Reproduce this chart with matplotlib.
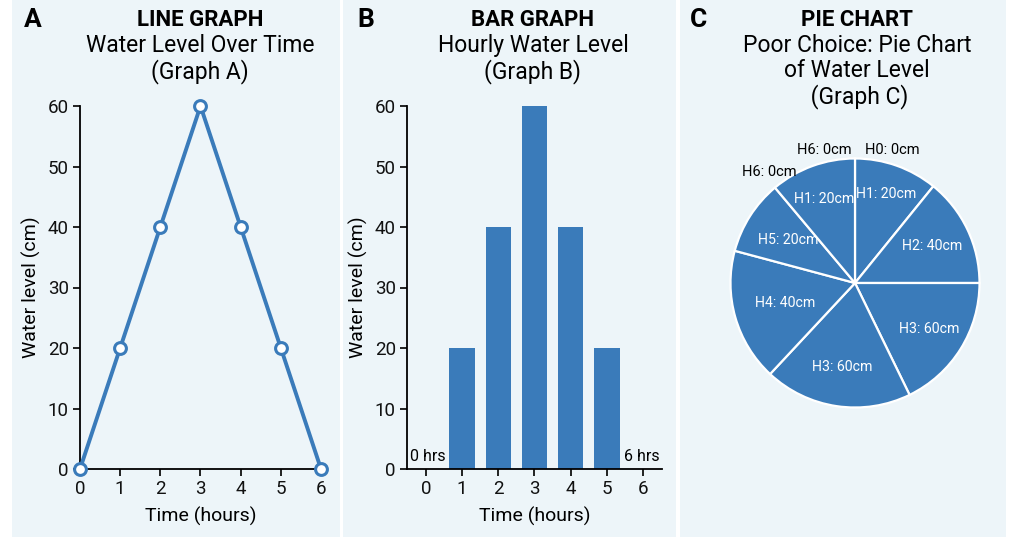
import numpy as np
import matplotlib.pyplot as plt
from matplotlib.patches import Rectangle

plt.rcParams['font.family'] = ['Roboto', 'DejaVu Sans']

# data
hours = [0, 1, 2, 3, 4, 5, 6]
level = [0, 20, 40, 60, 40, 20, 0]
bar_hours = [1, 2, 3, 4, 5]
bar_level = [20, 40, 60, 40, 20]
# pie as drawn (slice sizes in degrees, clockwise from 12 o'clock)
pie_sizes = [39, 51, 64, 69, 62, 35, 40]
pie_labels = ['H1: 20cm', 'H2: 40cm', 'H3: 60cm', 'H3: 60cm',
              'H4: 40cm', 'H5: 20cm', 'H1: 20cm']
outer_labels = ['H0: 0cm', 'H6: 0cm', 'H6: 0cm']

BLUE = '#3a7bba'
PANEL = '#edf5f9'
W, H = 1012, 552

fig = plt.figure(figsize=(W / 100, H / 100), dpi=100)
fig.patch.set_facecolor('white')


def px(x0, y0, x1, y1):
    return [x0 / W, 1 - y1 / H, (x1 - x0) / W, (y1 - y0) / H]


for x0, x1 in [(12, 340), (343, 676), (680, 1006)]:
    fig.patches.append(Rectangle((x0 / W, 1 - 537 / H), (x1 - x0) / W, 537 / H,
                                 transform=fig.transFigure, facecolor=PANEL,
                                 edgecolor='none', zorder=-5))


def fx(x):
    return x / W


def fy(y):
    return 1 - y / H


def style_axes(ax):
    ax.set_facecolor('none')
    ax.spines['top'].set_visible(False)
    ax.spines['right'].set_visible(False)
    ax.spines['left'].set_linewidth(1.3)
    ax.spines['bottom'].set_linewidth(1.3)
    ax.tick_params(labelsize=13.5, length=5, width=1.3, colors='#111111', pad=3)
    ax.set_yticks(range(0, 61, 10))
    ax.set_ylim(0, 60)
    ax.set_xticks(hours)
    ax.set_xlabel('Time (hours)', fontsize=14, labelpad=6)
    ax.set_ylabel('Water level (cm)', fontsize=14, labelpad=5)


# titles
titles = [
    (33, 200, 'A', 'LINE GRAPH', 'Water Level Over Time\n(Graph A)'),
    (366, 533, 'B', 'BAR GRAPH', 'Hourly Water Level\n(Graph B)'),
    (699, 857, 'C', 'PIE CHART', 'Poor Choice: Pie Chart\nof Water Level\n (Graph C)'),
]
for lx, cx, letter, head, sub in titles:
    fig.text(fx(lx), fy(20), letter, fontsize=19, fontweight='bold',
             ha='center', va='center')
    fig.text(fx(cx), fy(20), head, fontsize=16, fontweight='bold',
             ha='center', va='center')
    fig.text(fx(cx), fy(34), sub, fontsize=16.5, ha='center', va='top',
             linespacing=1.1)

# A: line graph
ax1 = fig.add_axes(px(80, 106, 321, 469))
style_axes(ax1)
ax1.set_xlim(0, 6)
ax1.plot(hours, level, color=BLUE, lw=2.8, marker='o', ms=8.5,
         mfc='white', mec=BLUE, mew=2.2, clip_on=False, zorder=3)

# B: bar graph
ax2 = fig.add_axes(px(407, 106, 662, 469))
style_axes(ax2)
ax2.set_xlim(-0.52, 6.52)
ax2.bar(bar_hours, bar_level, width=0.7, color=BLUE)
ax2.text(-0.45, 0.8, '0 hrs', fontsize=11.5, ha='left', va='bottom')
ax2.text(6.45, 0.8, '6 hrs', fontsize=11.5, ha='right', va='bottom')

# C: pie
ax3 = fig.add_axes(px(728, 156, 982, 410))
ax3.set_facecolor('none')
ax3.axis('off')
wedges, _ = ax3.pie(pie_sizes, startangle=90, counterclock=False,
                    colors=[BLUE] * len(pie_sizes),
                    wedgeprops=dict(edgecolor='white', linewidth=1.6))
ax3.set_xlim(-1.02, 1.02)
ax3.set_ylim(-1.02, 1.02)
ax3.set_aspect('equal')
label_r = [0.76, 0.69, 0.7, 0.68, 0.58, 0.64, 0.72]
for w, lab, r in zip(wedges, pie_labels, label_r):
    ang = np.deg2rad((w.theta1 + w.theta2) / 2)
    ax3.text(r * np.cos(ang), r * np.sin(ang), lab, color='white',
             fontsize=10.2, ha='center', va='center')
for (x, y), lab in zip([(0.3, 1.07), (-0.25, 1.07), (-0.69, 0.89)], outer_labels):
    ax3.text(x, y, lab, fontsize=10.5, ha='center', va='center', clip_on=False)

fig.savefig('out.png', dpi=100, facecolor='white')
